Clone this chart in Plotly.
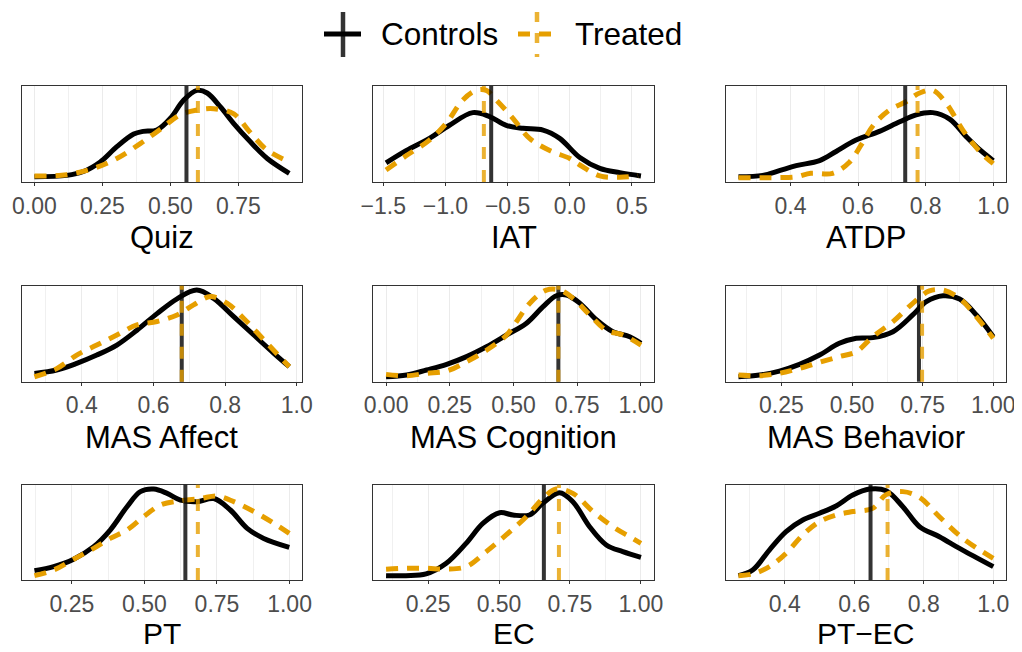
import plotly.graph_objects as go

# ---------------- data (density curves) ----------------
panel_names = ["Quiz", "IAT", "ATDP", "MAS Affect", "MAS Cognition", "MAS Behavior", "PT", "EC", "PT\u2212EC"]

quiz_ctrl_x = [0.0, 0.119, 0.18, 0.242, 0.303, 0.365, 0.40, 0.45, 0.50, 0.549, 0.598, 0.635, 0.684, 0.733, 0.794, 0.856, 0.937]
quiz_ctrl_y = [0.01, 0.026, 0.07, 0.18, 0.355, 0.50, 0.53, 0.545, 0.68, 0.89, 1.0, 0.97, 0.81, 0.62, 0.41, 0.22, 0.05]
quiz_trt_x = [0.0, 0.119, 0.217, 0.303, 0.389, 0.463, 0.536, 0.598, 0.659, 0.733, 0.79, 0.85, 0.917]
quiz_trt_y = [0.018, 0.034, 0.106, 0.22, 0.39, 0.555, 0.72, 0.775, 0.79, 0.73, 0.53, 0.33, 0.21]

iat_ctrl_x = [-1.478, -1.317, -1.129, -0.968, -0.780, -0.645, -0.511, -0.376, -0.215, -0.081, 0.081, 0.242, 0.403, 0.573]
iat_ctrl_y = [0.17, 0.31, 0.45, 0.60, 0.745, 0.70, 0.60, 0.565, 0.545, 0.45, 0.23, 0.106, 0.057, 0.019]
iat_trt_x = [-1.478, -1.317, -1.129, -0.995, -0.860, -0.753, -0.672, -0.591, -0.457, -0.323, -0.161, 0.0, 0.081, 0.242, 0.40, 0.55]
iat_trt_y = [0.087, 0.25, 0.43, 0.62, 0.89, 1.0, 1.0, 0.89, 0.68, 0.45, 0.31, 0.22, 0.145, 0.02, 0.005, 0.02]

atdp_ctrl_x = [0.246, 0.318, 0.367, 0.417, 0.486, 0.535, 0.594, 0.663, 0.723, 0.772, 0.821, 0.871, 0.92, 0.96, 1.0]
atdp_ctrl_y = [0.011, 0.026, 0.08, 0.137, 0.195, 0.30, 0.43, 0.53, 0.64, 0.72, 0.745, 0.67, 0.47, 0.32, 0.195]
atdp_trt_x = [0.246, 0.318, 0.367, 0.417, 0.46, 0.525, 0.575, 0.61, 0.645, 0.693, 0.742, 0.782, 0.821, 0.861, 0.91, 0.96, 1.0]
atdp_trt_y = [0.0, 0.0, 0.0, 0.01, 0.05, 0.05, 0.18, 0.38, 0.60, 0.775, 0.87, 0.97, 1.0, 0.85, 0.545, 0.30, 0.16]

affect_ctrl_x = [0.268, 0.33, 0.386, 0.442, 0.498, 0.554, 0.61, 0.666, 0.721, 0.768, 0.824, 0.88, 0.936, 0.979]
affect_ctrl_y = [0.045, 0.084, 0.16, 0.255, 0.37, 0.54, 0.73, 0.90, 1.0, 0.905, 0.695, 0.485, 0.275, 0.122]
affect_trt_x = [0.268, 0.33, 0.386, 0.442, 0.498, 0.554, 0.61, 0.666, 0.712, 0.759, 0.805, 0.852, 0.908, 0.979]
affect_trt_y = [0.007, 0.10, 0.255, 0.37, 0.485, 0.60, 0.64, 0.715, 0.83, 0.925, 0.85, 0.675, 0.43, 0.122]

cog_ctrl_x = [0.0, 0.081, 0.159, 0.238, 0.316, 0.394, 0.473, 0.551, 0.616, 0.668, 0.708, 0.76, 0.825, 0.89, 0.956, 1.0]
cog_ctrl_y = [0.007, 0.026, 0.084, 0.149, 0.237, 0.35, 0.485, 0.62, 0.81, 0.935, 0.943, 0.85, 0.66, 0.523, 0.466, 0.39]
cog_trt_x = [0.0, 0.081, 0.159, 0.238, 0.316, 0.394, 0.473, 0.512, 0.564, 0.629, 0.681, 0.734, 0.799, 0.864, 0.93, 1.0]
cog_trt_y = [0.034, 0.019, 0.046, 0.072, 0.18, 0.31, 0.485, 0.64, 0.85, 1.0, 1.0, 0.905, 0.715, 0.54, 0.485, 0.37]

beh_ctrl_x = [0.098, 0.172, 0.243, 0.314, 0.385, 0.455, 0.515, 0.574, 0.645, 0.715, 0.763, 0.822, 0.881, 0.94, 1.0]
beh_ctrl_y = [0.007, 0.026, 0.072, 0.149, 0.255, 0.39, 0.447, 0.455, 0.523, 0.715, 0.867, 0.935, 0.897, 0.715, 0.466]
beh_trt_x = [0.098, 0.172, 0.243, 0.314, 0.385, 0.455, 0.515, 0.574, 0.645, 0.715, 0.774, 0.822, 0.881, 0.94, 1.0]
beh_trt_y = [0.026, 0.019, 0.046, 0.103, 0.172, 0.237, 0.294, 0.466, 0.638, 0.848, 0.99, 1.0, 0.905, 0.695, 0.447]

pt_ctrl_x = [0.121, 0.187, 0.256, 0.325, 0.382, 0.44, 0.486, 0.532, 0.578, 0.624, 0.681, 0.739, 0.796, 0.854, 0.911, 0.999]
pt_ctrl_y = [0.058, 0.104, 0.19, 0.335, 0.527, 0.796, 0.97, 1.0, 0.95, 0.873, 0.854, 0.89, 0.758, 0.546, 0.43, 0.327]
pt_trt_x = [0.121, 0.187, 0.256, 0.325, 0.382, 0.44, 0.497, 0.555, 0.624, 0.693, 0.75, 0.808, 0.877, 0.946, 0.999]
pt_trt_y = [0.0, 0.065, 0.19, 0.315, 0.43, 0.527, 0.68, 0.815, 0.865, 0.89, 0.92, 0.854, 0.74, 0.604, 0.488]

ec_ctrl_x = [0.102, 0.172, 0.243, 0.313, 0.384, 0.443, 0.502, 0.549, 0.607, 0.654, 0.713, 0.76, 0.819, 0.878, 0.936, 1.0]
ec_ctrl_y = [0.0, 0.0, 0.02, 0.14, 0.373, 0.604, 0.727, 0.70, 0.70, 0.835, 0.958, 0.854, 0.565, 0.354, 0.277, 0.212]
ec_trt_x = [0.102, 0.172, 0.243, 0.313, 0.384, 0.455, 0.525, 0.596, 0.654, 0.701, 0.76, 0.831, 0.901, 0.96, 1.0]
ec_trt_y = [0.073, 0.085, 0.085, 0.077, 0.104, 0.277, 0.47, 0.68, 0.89, 1.0, 0.95, 0.74, 0.565, 0.45, 0.373]

ptec_ctrl_x = [0.267, 0.308, 0.356, 0.404, 0.452, 0.5, 0.548, 0.596, 0.644, 0.692, 0.74, 0.788, 0.845, 0.903, 1.0]
ptec_ctrl_y = [0.0, 0.065, 0.296, 0.508, 0.642, 0.72, 0.804, 0.93, 1.0, 0.98, 0.796, 0.565, 0.45, 0.315, 0.104]
ptec_trt_x = [0.267, 0.308, 0.356, 0.404, 0.452, 0.5, 0.548, 0.596, 0.653, 0.692, 0.74, 0.788, 0.845, 0.913, 1.0]
ptec_trt_y = [0.0, 0.02, 0.104, 0.258, 0.47, 0.623, 0.70, 0.74, 0.777, 0.935, 0.97, 0.904, 0.68, 0.43, 0.2]

ctrl_means = [0.559, -0.632, 0.7395, 0.679, 0.676, 0.737, 0.641, 0.658, 0.647]
trt_means = [0.601, -0.691, 0.776, 0.679, 0.676, 0.748, 0.684, 0.711, 0.696]

ticks_a = [0.0, 0.25, 0.5, 0.75]
ticks_a_lab = ["0.00", "0.25", "0.50", "0.75"]
ticks_iat = [-1.5, -1.0, -0.5, 0.0, 0.5]
ticks_iat_lab = ["\u22121.5", "\u22121.0", "\u22120.5", "0.0", "0.5"]
ticks_b = [0.4, 0.6, 0.8, 1.0]
ticks_b_lab = ["0.4", "0.6", "0.8", "1.0"]
ticks_c = [0.0, 0.25, 0.5, 0.75, 1.0]
ticks_c_lab = ["0.00", "0.25", "0.50", "0.75", "1.00"]
ticks_d = [0.25, 0.5, 0.75, 1.0]
ticks_d_lab = ["0.25", "0.50", "0.75", "1.00"]

# ---------------- assemble ----------------
ctrl_data = [(quiz_ctrl_x, quiz_ctrl_y), (iat_ctrl_x, iat_ctrl_y), (atdp_ctrl_x, atdp_ctrl_y),
             (affect_ctrl_x, affect_ctrl_y), (cog_ctrl_x, cog_ctrl_y), (beh_ctrl_x, beh_ctrl_y),
             (pt_ctrl_x, pt_ctrl_y), (ec_ctrl_x, ec_ctrl_y), (ptec_ctrl_x, ptec_ctrl_y)]
trt_data = [(quiz_trt_x, quiz_trt_y), (iat_trt_x, iat_trt_y), (atdp_trt_x, atdp_trt_y),
            (affect_trt_x, affect_trt_y), (cog_trt_x, cog_trt_y), (beh_trt_x, beh_trt_y),
            (pt_trt_x, pt_trt_y), (ec_trt_x, ec_trt_y), (ptec_trt_x, ptec_trt_y)]
tick_sets = [(ticks_a, ticks_a_lab), (ticks_iat, ticks_iat_lab), (ticks_b, ticks_b_lab),
             (ticks_b, ticks_b_lab), (ticks_c, ticks_c_lab), (ticks_d, ticks_d_lab),
             (ticks_d, ticks_d_lab), (ticks_d, ticks_d_lab), (ticks_b, ticks_b_lab)]

W, H = 1022, 652
OFF = 8  # default page body margin
col_px = [(21.7, 302.0), (373.3, 653.7), (725.7, 1006.0)]
row_px = [(86.0, 182.0), (285.7, 381.7), (484.7, 580.0)]
title_y = [238, 437, 633]
title_size = [31, 31, 30]

ORANGE = "#E69F00"
FONT = "Liberation Sans, Arial, sans-serif"

def px(x):
    return (x - OFF) / W

def py(y):
    return 1 - (y - OFF) / H

fig = go.Figure()
layout = dict(width=W, height=H, margin=dict(l=0, r=0, t=0, b=0, autoexpand=False),
              paper_bgcolor="white", plot_bgcolor="white", showlegend=False,
              font=dict(family=FONT))
shapes = []
annotations = []

for i in range(9):
    r, c = divmod(i, 3)
    ax = "" if i == 0 else str(i + 1)
    cx, cy = ctrl_data[i]
    tx, ty = trt_data[i]
    lo = min(min(cx), min(tx)); hi = max(max(cx), max(tx)); wdt = hi - lo
    ymax = max(max(cy), max(ty))
    tv, tl = tick_sets[i]
    step = tv[1] - tv[0]
    xr = [lo - 0.05 * wdt, hi + 0.05 * wdt]
    minor_vals = [v + step / 2 for v in [tv[0] - step] + tv]
    minor_vals = [m for m in minor_vals if xr[0] < m < xr[1]]

    layout["xaxis" + ax] = dict(
        domain=[px(col_px[c][0]), px(col_px[c][1])], anchor="y" + ax,
        range=xr, tickmode="array", tickvals=tv, ticktext=tl, automargin=False,
        ticks="outside", ticklen=3, tickwidth=1.1, tickcolor="#333333",
        tickfont=dict(size=23, color="#4D4D4D", family=FONT),
        showgrid=True, gridcolor="#EBEBEB", gridwidth=1.2,
        minor=dict(tickvals=minor_vals, showgrid=True, gridcolor="#F0F0F0", gridwidth=0.9, ticks=""),
        showline=True, linecolor="#333333", linewidth=1.2, mirror=True, zeroline=False,
        fixedrange=True)
    layout["yaxis" + ax] = dict(
        domain=[py(row_px[r][1]), py(row_px[r][0])], anchor="x" + ax,
        range=[-0.05 * ymax, 1.05 * ymax], showticklabels=False, ticks="", automargin=False,
        showgrid=False, zeroline=False, showline=True, linecolor="#333333",
        linewidth=1.2, mirror=True, fixedrange=True)

    fig.add_trace(go.Scatter(x=cx, y=cy, mode="lines", name="Controls",
                             line=dict(color="black", width=5, shape="spline", smoothing=1.0),
                             xaxis="x" + ax, yaxis="y" + ax, hoverinfo="skip"))
    fig.add_trace(go.Scatter(x=tx, y=ty, mode="lines", name="Treated",
                             line=dict(color=ORANGE, width=5, dash="12px,9px", shape="spline", smoothing=1.0),
                             xaxis="x" + ax, yaxis="y" + ax, hoverinfo="skip"))

    shapes.append(dict(type="line", xref="x" + ax, yref="y" + ax + " domain",
                       x0=ctrl_means[i], x1=ctrl_means[i], y0=0, y1=1, layer="above",
                       line=dict(color="rgba(0,0,0,0.8)", width=4)))
    shapes.append(dict(type="line", xref="x" + ax, yref="y" + ax + " domain",
                       x0=trt_means[i], x1=trt_means[i], y0=0, y1=1, layer="above",
                       line=dict(color="rgba(230,159,0,0.8)", width=4, dash="12px,11px")))

    annotations.append(dict(text=panel_names[i], xref="paper", yref="paper",
                            x=px((col_px[c][0] + col_px[c][1]) / 2), y=py(title_y[r]),
                            xanchor="center", yanchor="middle", showarrow=False,
                            font=dict(size=title_size[r], color="black", family=FONT)))

# ---------------- legend (manual) ----------------
shapes += [
    dict(type="line", xref="paper", yref="paper", x0=px(324), x1=px(361), y0=py(34), y1=py(34),
         line=dict(color="black", width=5)),
    dict(type="line", xref="paper", yref="paper", x0=px(343), x1=px(343), y0=py(12), y1=py(57),
         line=dict(color="rgba(0,0,0,0.8)", width=4.5)),
    dict(type="line", xref="paper", yref="paper", x0=px(518), x1=px(555), y0=py(34), y1=py(34),
         line=dict(color=ORANGE, width=5, dash="12px,9px")),
    dict(type="line", xref="paper", yref="paper", x0=px(537), x1=px(537), y0=py(12), y1=py(57),
         line=dict(color="rgba(230,159,0,0.8)", width=4.5, dash="10px,11px")),
]
annotations += [
    dict(text="Controls", xref="paper", yref="paper", x=px(379), y=py(34), xanchor="left",
         yanchor="middle", showarrow=False, font=dict(size=31.5, color="black", family=FONT)),
    dict(text="Treated", xref="paper", yref="paper", x=px(573), y=py(34), xanchor="left",
         yanchor="middle", showarrow=False, font=dict(size=31.5, color="black", family=FONT)),
]

layout["shapes"] = shapes
layout["annotations"] = annotations
fig.update_layout(**layout)
fig.write_html("out.html")
